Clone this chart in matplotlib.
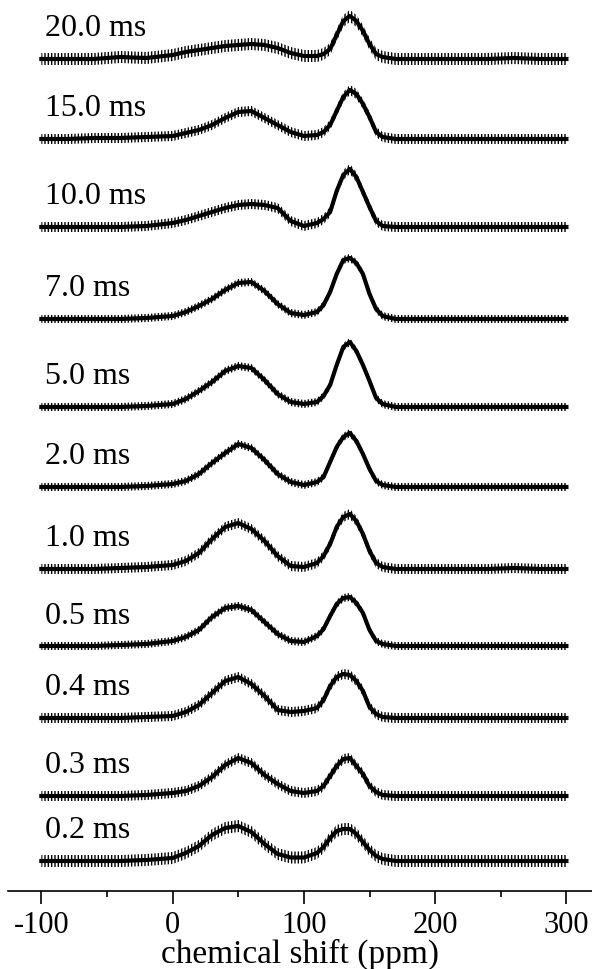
import matplotlib
matplotlib.use("Agg")
import matplotlib.pyplot as plt
import numpy as np
from matplotlib.ticker import MultipleLocator

# ---- data (intensities, arbitrary units) ----
labels = ["20.0 ms", "15.0 ms", "10.0 ms", "7.0 ms", "5.0 ms", "2.0 ms",
          "1.0 ms", "0.5 ms", "0.4 ms", "0.3 ms", "0.2 ms"]

ppm = [-100, -80, -60, -40, -20, 0, 10, 20, 30, 40, 50, 60, 70, 80, 90, 100,
       110, 115, 120, 125, 130, 135, 140, 145, 150, 155, 160, 170, 180, 200,
       220, 240, 260, 280, 300]

s_20_0 = [0, 0, 0, 2, 1, 4, 7, 9, 11, 13, 14, 15, 14, 11, 6, 3,
          3, 5, 10, 24, 38, 43, 38, 28, 15, 5, 2, 0, 0, 0, 0, 0, 1, 0, 0]
s_15_0 = [0, 0, 1, 1, 2, 3, 6, 9, 14, 21, 27, 28, 21, 14, 7, 3,
          4, 7, 14, 28, 42, 49, 45, 35, 22, 7, 2, 0, 0, 0, 0, 0, 0, 0, 0]
s_10_0 = [0, 0, 0, 0, 1, 4, 7, 11, 15, 19, 22, 23, 22, 19, 6, 1,
          4, 8, 15, 36, 52, 58, 50, 35, 20, 6, 1, 0, 0, 0, 0, 0, 0, 0, 0]
s_7_0 = [0, 0, 0, 0, 1, 3, 7, 13, 20, 29, 36, 37, 28, 15, 6, 4,
         7, 14, 27, 45, 59, 61, 56, 45, 25, 10, 3, 0, 0, 0, 0, 0, 0, 0, 0]
s_5_0 = [0, 0, 0, 0, 1, 3, 8, 16, 25, 36, 41, 39, 27, 13, 5, 3,
         5, 11, 22, 42, 60, 65, 56, 42, 26, 9, 3, 0, 0, 0, 0, 0, 0, 0, 0]
s_2_0 = [0, 0, 0, 0, 1, 3, 6, 13, 24, 34, 43, 39, 27, 13, 5, 2,
         5, 10, 25, 40, 50, 54, 46, 33, 18, 6, 2, 0, 0, 0, 0, 0, 0, 0, 0]
s_1_0 = [0, 0, 0, 1, 2, 4, 8, 16, 30, 42, 46, 40, 28, 13, 3, 2,
         6, 13, 25, 42, 52, 55, 48, 35, 18, 6, 2, 0, 0, 0, 0, 0, 1, 0, 0]
s_0_5 = [0, 0, 0, 1, 2, 5, 9, 16, 29, 38, 40, 36, 24, 12, 5, 4,
         10, 17, 30, 42, 48, 49, 43, 33, 16, 5, 2, 0, 0, 0, 0, 0, 0, 0, 0]
s_0_4 = [0, 0, 0, 0, 1, 2, 6, 13, 25, 37, 41, 34, 22, 8, 6, 7,
         10, 18, 32, 41, 44, 43, 37, 27, 11, 4, 1, 0, 0, 0, 0, 0, 0, 0, 0]
s_0_3 = [0, 0, 0, 0, 1, 3, 5, 10, 19, 31, 38, 33, 21, 12, 5, 3,
         5, 10, 20, 30, 37, 38, 30, 22, 10, 4, 1, 0, 0, 0, 0, 0, 0, 0, 0]
s_0_2 = [0, 0, 0, 0, 1, 3, 8, 15, 26, 33, 35, 29, 17, 7, 3.5, 3.5,
         8, 14, 23, 30, 32, 32, 27, 19, 11, 5, 2, 0, 0, 0, 0, 0, 0, 0, 0]

spectra = [s_20_0, s_15_0, s_10_0, s_7_0, s_5_0, s_2_0,
           s_1_0, s_0_5, s_0_4, s_0_3, s_0_2]

# noise level (half peak-to-peak) of each trace
noise = [6, 5, 5, 4, 4, 4, 5, 4, 5, 5, 6]

# stacking offsets of each trace above the axis
offsets = [832, 752, 664, 572, 484, 404, 322, 245, 173, 95, 30]

# ---- figure ----
W, H = 592, 970
plt.rcParams['hatch.linewidth'] = 1.0
plt.rcParams['axes.unicode_minus'] = False
fig = plt.figure(figsize=(W / 100, H / 100), dpi=100)
serif = ['Liberation Serif', 'DejaVu Serif']

axis_y = 892
left_px = 7.5
ax = fig.add_axes([left_px / W, (H - axis_y) / H, 1 - left_px / W, axis_y / H])
ax.set_xlim(-125.8, 319.5)
ax.set_ylim(0, axis_y)

x = np.array(ppm, dtype=float)
for lab, s, off, nz in zip(labels, spectra, offsets, noise):
    y = np.array(s, dtype=float) + off
    ax.fill_between(x, y - nz, y + nz, facecolor='none', edgecolor='black',
                    hatch='|||||', linewidth=0)
    ax.plot(x, y, color='black', lw=3.0, solid_joinstyle='round')
    ax.text(-97, off + 31, lab, family=serif, fontsize=23, ha='left', va='center')

for side in ['left', 'right', 'top']:
    ax.spines[side].set_visible(False)
ax.spines['bottom'].set_linewidth(1.2)
ax.set_yticks([])
ax.xaxis.set_major_locator(MultipleLocator(100))
ax.xaxis.set_minor_locator(MultipleLocator(50))
ax.tick_params(axis='x', which='major', direction='out', length=9.5, width=1.2,
               labelsize=22, pad=4)
ax.tick_params(axis='x', which='minor', direction='out', length=4.5, width=1.2)
for t in ax.get_xticklabels():
    t.set_family(serif)
ax.set_xlabel('chemical shift (ppm)', family=serif, fontsize=24, labelpad=-1)

fig.savefig('out.png', dpi=100)
